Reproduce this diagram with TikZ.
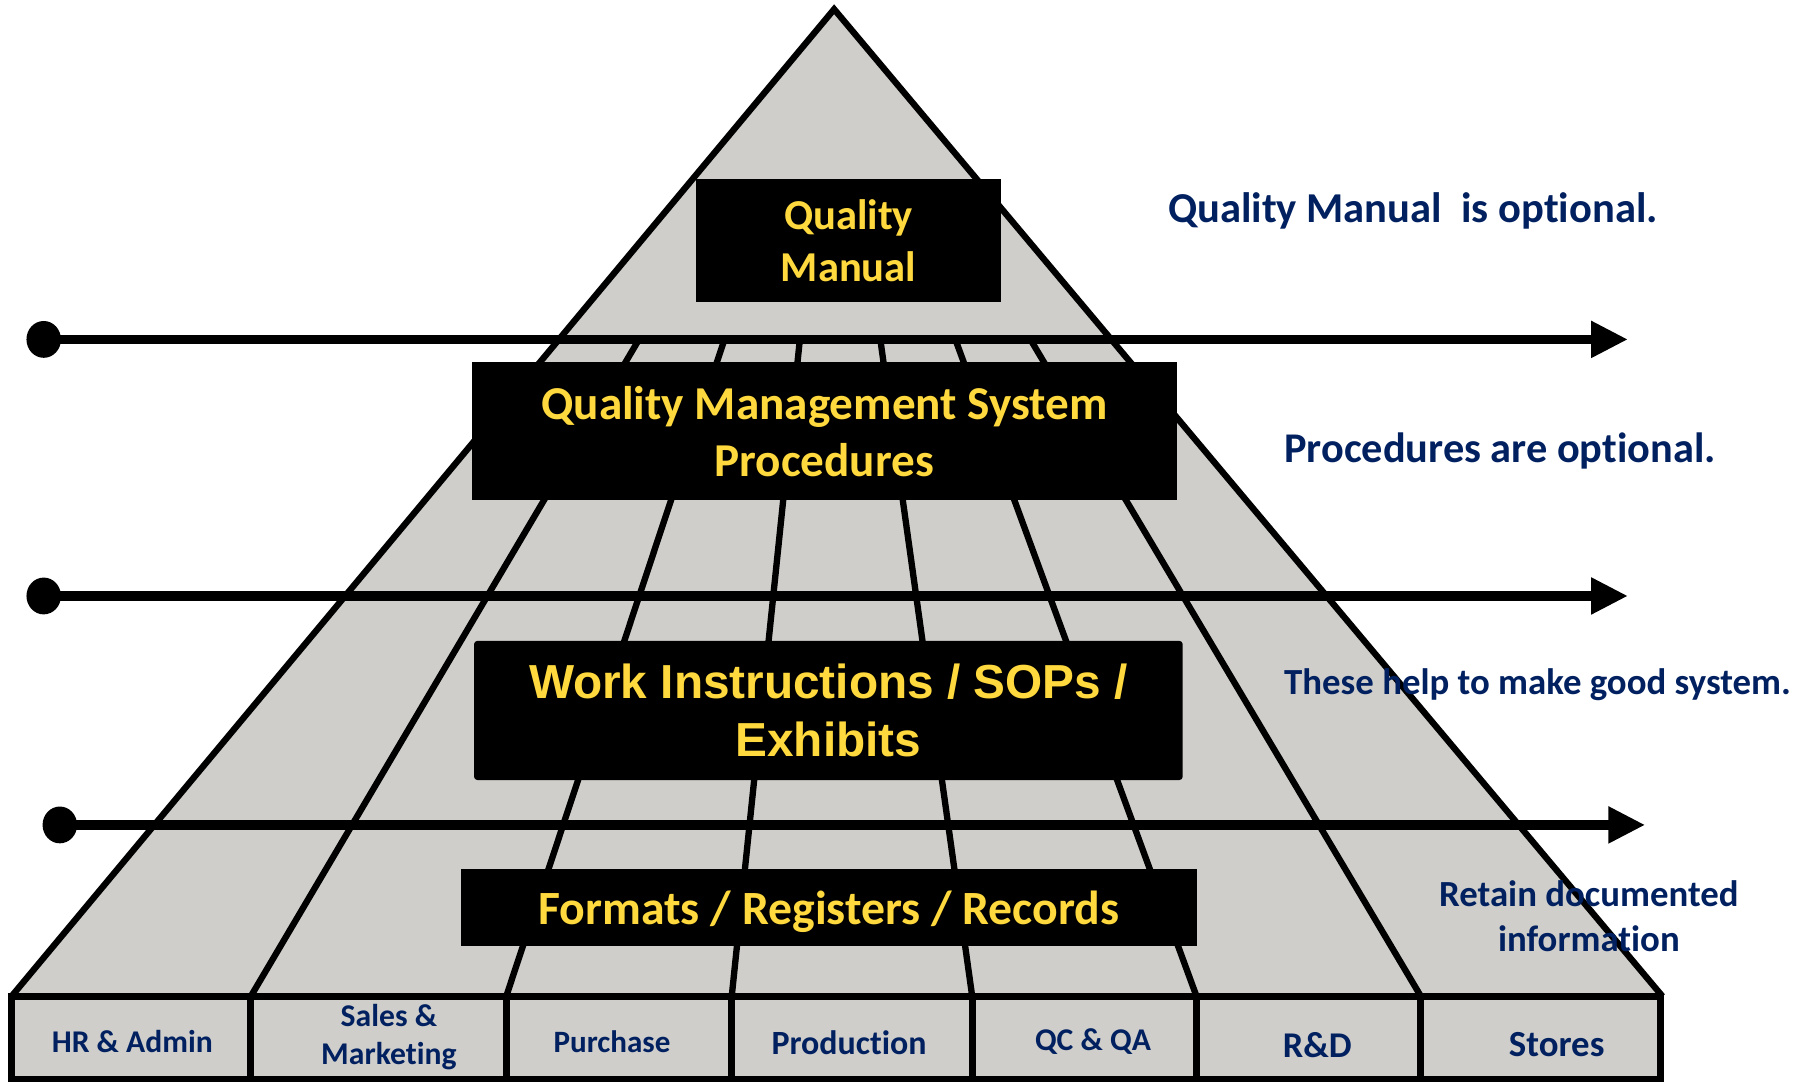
\documentclass[tikz,border=0pt]{standalone}
\usepackage{fontspec}
\setmainfont{Carlito}[Ligatures=NoCommon]
\newfontfamily\arialf{Liberation Sans}
\usetikzlibrary{arrows.meta,calc,shapes.geometric}
\definecolor{pyrgray}{HTML}{CFCECA}
\definecolor{navy}{HTML}{002060}
\definecolor{gold}{HTML}{FFD93D}
\tikzset{
  pyline/.style={line width=5.5pt, black},
  baserow/.style={line width=6pt, black},
  flowline/.style={line width=8pt, black, -{Triangle[length=32pt,width=30pt]}},
  startdot/.style={ellipse, fill=black, minimum width=30pt, minimum height=32pt, inner sep=0pt},
  blackbox/.style={fill=black, text=gold, inner sep=0pt, align=center, font=\bfseries},
  note/.style={text=navy, font=\bfseries, inner sep=0pt, align=center},
  dept/.style={text=navy, font=\bfseries, inner sep=0pt, align=center},
}
\begin{document}
\begin{tikzpicture}[x=1pt,y=-1pt]
\useasboundingbox (0,0) rectangle (1568,940);
\coordinate (apex) at (725,8);
\coordinate (bl) at (10,866);
\coordinate (br) at (1445,866);
% pyramid body
\fill[pyrgray] (apex) -- (bl) -- (br) -- cycle;
\foreach \x in {218,440,636,845,1040,1235}
  \draw[pyline] (\x,866) -- ($(\x,866)!0.6655!(apex)$);
\draw[pyline, line join=miter] (bl) -- (apex) -- (br);
% base row
\draw[baserow, fill=pyrgray] (10,866) rectangle (1443,938);
\foreach \x in {218,440,636,845,1040,1235}
  \draw[baserow] (\x,866) -- (\x,938);
\node[dept, font=\bfseries\fontsize{27.5}{33}\selectfont] (hr) at (115,905) {HR \& Admin};
\node[dept, font=\bfseries\fontsize{27.5}{33}\selectfont] (sales) at (338,901) {Sales \&\\Marketing};
\node[dept, font=\bfseries\fontsize{27}{33}\selectfont] (pur) at (532,905) {Purchase};
\node[dept, font=\bfseries\fontsize{29.5}{33}\selectfont] (prod) at (738,906) {Production};
\node[dept, font=\bfseries\fontsize{27.5}{33}\selectfont] (qc) at (950,905) {QC \& QA};
\node[dept, font=\bfseries\fontsize{31.5}{33}\selectfont] (rd) at (1145,908) {R\&D};
\node[dept, font=\bfseries\fontsize{32}{33}\selectfont] (st) at (1353,908) {Stores};
% arrows
\node[startdot] (s1) at (38,295) {};
\node[startdot] (s2) at (38,518) {};
\node[startdot] (s3) at (52,717) {};
\coordinate (e1) at (1415,295);
\coordinate (e2) at (1415,518);
\coordinate (e3) at (1430,717);
\draw[flowline] (s1.center) -- (e1);
\draw[flowline] (s2.center) -- (e2);
\draw[flowline] (s3.center) -- (e3);
% black boxes
\node[blackbox, minimum width=265pt, minimum height=107pt, font=\bfseries\fontsize{37}{45}\selectfont] (qm) at (737.5,209) {Quality\\Manual};
\node[blackbox, minimum width=613pt, minimum height=120pt, font=\bfseries\fontsize{41}{50}\selectfont] (qms) at (716.5,375) {Quality Management System\\Procedures};
\node[blackbox, minimum width=616pt, minimum height=121pt, rounded corners=3pt, font=\arialf\bfseries\fontsize{41.5}{51}\selectfont] (wi) at (720,617.5) {Work Instructions / SOPs /\\Exhibits};
\node[blackbox, minimum width=639pt, minimum height=67pt, font=\bfseries\fontsize{41.5}{50}\selectfont, text height=39pt, text depth=9pt] (fmt) at (720.5,788.5) {Formats / Registers / Records};
% notes
\node[note, anchor=west, font=\bfseries\fontsize{37}{45}\selectfont] (n1) at (1015,183) {Quality Manual\ \ is optional.};
\node[note, anchor=west, font=\bfseries\fontsize{36.8}{45}\selectfont] (n2) at (1116,392) {Procedures are optional.};
\node[note, anchor=west, font=\bfseries\fontsize{32}{39}\selectfont] (n3) at (1116,595) {These help to make good system.};
\node[note, font=\bfseries\fontsize{32}{39}\selectfont] (n4) at (1381,796) {Retain documented\\information};
\end{tikzpicture}
\end{document}
